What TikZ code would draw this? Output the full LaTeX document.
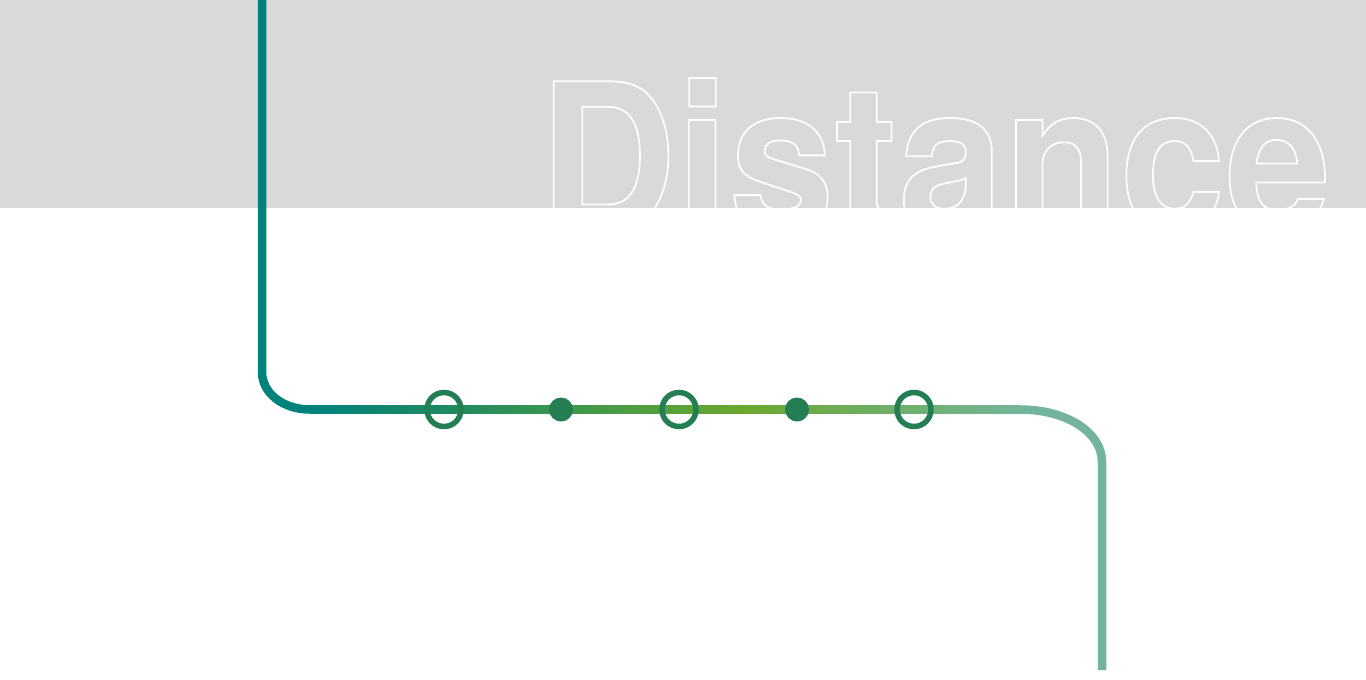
\documentclass[tikz,border=0pt]{standalone}
\usepackage{fontspec}
\newfontfamily\headfont{TeX Gyre Heros}
\definecolor{bandgray}{HTML}{D9D9D9}
\definecolor{cTeal}{HTML}{00827C}
\definecolor{cTealB}{HTML}{1E8A62}
\definecolor{cGreen}{HTML}{6AA82E}
\definecolor{cLight}{HTML}{73B59C}
\definecolor{cDot}{HTML}{237F53}
\pgfdeclarehorizontalshading{lineshade}{100bp}{color(0bp)=(cTeal); color(25bp)=(cTeal); color(34.5bp)=(cTealB); color(55.5bp)=(cGreen); color(75bp)=(cLight); color(100bp)=(cLight)}
\tikzset{
  route/.style={line width=8.5pt},
  ring/.style={circle, draw=cDot, line width=5.5pt, minimum size=34pt, inner sep=0pt},
  stop/.style={circle, fill=cDot, minimum size=24pt, inner sep=0pt},
}
\begin{document}
\begin{tikzpicture}[x=1pt,y=-1pt]
\useasboundingbox (0,0) rectangle (1366,680);
\fill[bandgray] (0,0) rectangle (1366,208);
\begin{scope}
\clip (0,0) rectangle (1366,208);
\node[anchor=base west, inner sep=0pt] (title) at (539,230)
  {\scalebox{0.93}[1]{\fontsize{204}{204}\headfont\bfseries\color{white}\special{pdf:literal 1 1 1 RG 1.8 w 1 Tr}Distance\special{pdf:literal 0 Tr}}};
\end{scope}
% route
\coordinate (top) at (262,0);
\coordinate (c1) at (262,372);
\coordinate (h1) at (310,409.5);
\coordinate (h2) at (1020,409.5);
\coordinate (c2) at (1102,462);
\coordinate (bot) at (1102,670);
\draw[route, cTeal] (top) -- (c1) .. controls (262,393) and (283,409.5) .. (h1);
\shade[shading=lineshade] (310,405.25) rectangle (1020.5,413.75);
\draw[route, cLight] (h2) .. controls (1066,409.5) and (1102,432) .. (c2) -- (bot);
\node[ring] (r1) at (444,409.5) {};
\node[stop] (s1) at (561,409.5) {};
\node[ring] (r2) at (679,409.5) {};
\node[stop] (s2) at (797,409.5) {};
\node[ring] (r3) at (914,409.5) {};
\end{tikzpicture}
\end{document}
